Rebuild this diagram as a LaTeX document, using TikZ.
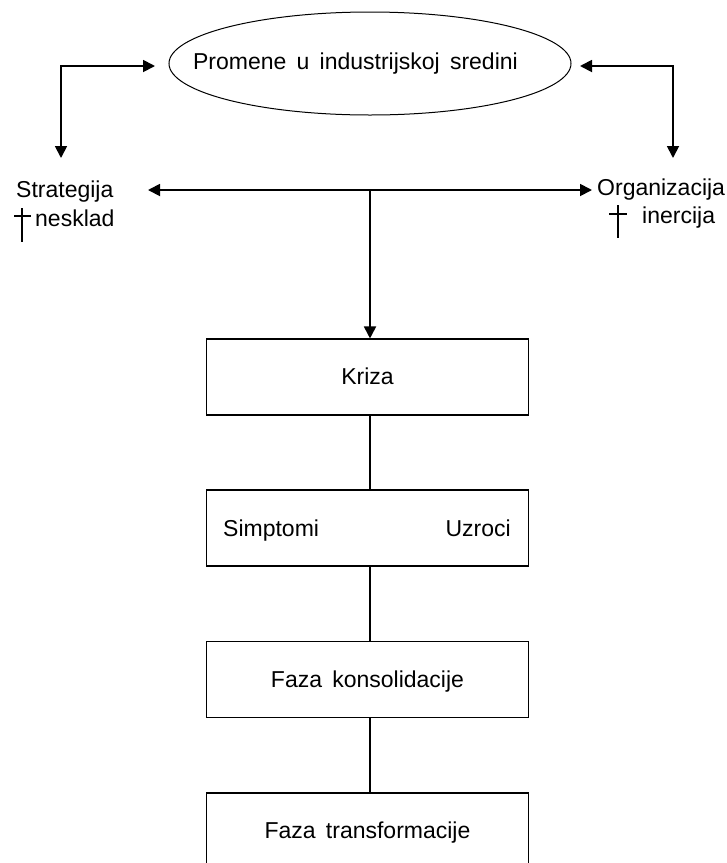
\documentclass[tikz,border=0pt]{standalone}
\usepackage{fontspec}
\setmainfont[WordSpace=1.6]{Liberation Sans}
\usetikzlibrary{arrows.meta,shapes.geometric}
\begin{document}
\begin{tikzpicture}[x=1pt,y=-1pt,
  every node/.style={font=\fontsize{23}{27}\selectfont, inner sep=0pt},
  arr/.style={line width=1.8pt, -{Triangle[length=12pt,width=12pt]}},
  arrtwo/.style={line width=1.8pt, {Triangle[length=12pt,width=12pt]}-{Triangle[length=12pt,width=12pt]}},
  stage/.style={draw, line width=1.1pt, minimum width=322pt, minimum height=76pt,
    text height=17.5pt, text depth=2.5pt},
  link/.style={line width=1.1pt},
  daggermark/.style={line width=1.1pt}]
\useasboundingbox (0,0) rectangle (727,863);
% ellipse
\node[draw, ellipse, line width=1pt, minimum width=402pt, minimum height=103pt] (env) at (370,63.5) {};
\node[anchor=base] (envtxt) at (355.5,69) {Promene u industrijskoj sredini};
% side labels
\node[anchor=base west] (strat) at (16,197) {Strategija};
\node[anchor=base west] (nesk) at (35,226) {nesklad};
\node[anchor=base west] (org) at (597,195) {Organizacija};
\node[anchor=base west] (iner) at (642,223) {inercija};
% dagger marks
\draw[daggermark] (14,216) -- (31,216) (22,208) -- (22,242);
\draw[daggermark] (609,214) -- (627,214) (618,205) -- (618,238);
% arrow end coordinates
\coordinate (sTop) at (61,158);
\coordinate (oTop) at (673,158);
\coordinate (envL) at (155,66);
\coordinate (envR) at (580,66);
\coordinate (hL) at (148,190);
\coordinate (hR) at (592,190);
\coordinate (hM) at (370,190);
\draw[arrtwo] (sTop) |- (envL);
\draw[arrtwo] (oTop) |- (envR);
\draw[arrtwo] (hL) -- (hR);
% boxes
\node[stage] (kriza) at (367.5,377) {Kriza};
\node[stage] (simp) at (367.5,528) {};
\node[anchor=base west] (simpt) at (223,536) {Simptomi};
\node[anchor=base east] (uzr) at (511,536) {Uzroci};
\node[stage] (kons) at (367.5,679.5) {Faza konsolidacije};
\node[stage] (trans) at (367.5,831) {Faza transformacije};
\draw[arr] (hM) -- (hM |- kriza.north);
\draw[link] ([xshift=2.5pt]kriza.south) -- ([xshift=2.5pt]simp.north);
\draw[link] ([xshift=2.5pt]simp.south) -- ([xshift=2.5pt]kons.north);
\draw[link] ([xshift=2.5pt]kons.south) -- ([xshift=2.5pt]trans.north);
\end{tikzpicture}
\end{document}
